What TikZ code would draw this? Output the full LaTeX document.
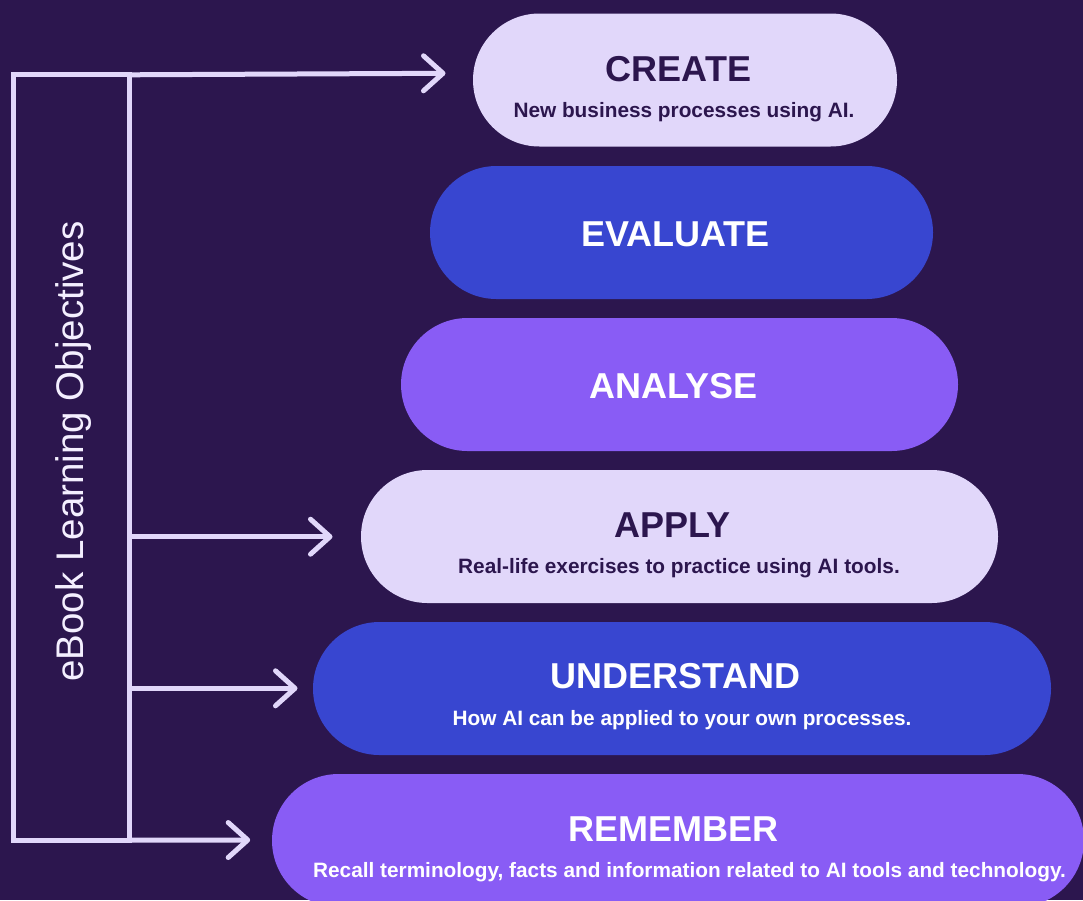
\documentclass[tikz,border=0pt]{standalone}
\usepackage{fontspec}
\setmainfont{Liberation Sans}
\usetikzlibrary{calc}

\definecolor{bgpurple}{HTML}{2C164E}
\definecolor{lavender}{HTML}{E1D7FA}
\definecolor{pillblue}{HTML}{3846D0}
\definecolor{pillviolet}{HTML}{895CF5}
\definecolor{inkdark}{HTML}{2C164E}
\definecolor{labelwhite}{HTML}{F4EFFF}

\begin{document}
\begin{tikzpicture}[x=1pt,y=-1pt,
  pill/.style={rounded corners=66.5pt, minimum height=133pt, inner sep=0pt, outer sep=0pt},
  title/.style={anchor=base, inner sep=0pt, font=\fontsize{36}{40}\selectfont\bfseries},
  subtitle/.style={anchor=base, inner sep=0pt, font=\fontsize{20.8}{24}\selectfont\bfseries},
  rail/.style={draw=lavender, line width=5pt},
  chevron/.style={draw=lavender, line width=5pt, line cap=round, line join=round},
]
% canvas
\useasboundingbox (0,0) rectangle (1083,900);
\fill[bgpurple] (0,0) rectangle (1083,900);
\clip (0,0) rectangle (1083,900);

% level pills
\node[pill, fill=lavender,   minimum width=424pt] (create)     at (685,80)      {};
\node[pill, fill=pillblue,   minimum width=503pt] (evaluate)   at (681.5,232.5) {};
\node[pill, fill=pillviolet, minimum width=557pt] (analyse)    at (679.5,384.5) {};
\node[pill, fill=lavender,   minimum width=637pt] (apply)      at (679.5,536.5) {};
\node[pill, fill=pillblue,   minimum width=738pt] (understand) at (682,688.5)   {};
\node[pill, fill=pillviolet, minimum width=812pt] (remember)   at (678,840.5)   {};

% titles and descriptions
\node[title, text=inkdark] (createT) at (678.5,81) {CREATE};
\node[subtitle, text=inkdark] (createS) at (684,117) {New business processes using AI.};
\node[title, text=white] (evaluateT) at (675.5,246) {EVALUATE};
\node[title, text=white] (analyseT) at (673.5,398) {ANALYSE};
\node[title, text=inkdark] (applyT) at (672.5,537) {APPLY};
\node[subtitle, text=inkdark] (applyS) at (679,573) {Real-life exercises to practice using AI tools.};
\node[title, text=white] (understandT) at (675.5,688) {UNDERSTAND};
\node[subtitle, text=white] (understandS) at (682,725) {How AI can be applied to your own processes.};
\node[title, text=white] (rememberT) at (673.5,841) {REMEMBER};
\node[subtitle, text=white] (rememberS) at (689.5,877) {Recall terminology, facts and information related to AI tools and technology.};

% bracket frame with its label
\node[draw=lavender, line width=5pt, minimum width=115.5pt, minimum height=765.2pt,
      inner sep=0pt, outer sep=0pt] (frame) at (71.25,457.4) {};
\node[anchor=base, rotate=90, inner sep=0pt, text=labelwhite,
      font=\fontsize{38.5}{44}\selectfont] (label) at (83,451.5) {eBook Learning Objectives};

% arrow tips
\coordinate (tipC) at (443,73.3);
\coordinate (tipA) at (330,536.7);
\coordinate (tipU) at (295,688.3);
\coordinate (tipR) at (247.7,840);

% connectors
\draw[rail] (frame.north east) -- (tipC);
\draw[rail] (frame.east |- tipA) -- (tipA);
\draw[rail] (frame.east |- tipU) -- (tipU);
\draw[rail] (frame.south east) -- (tipR);

\foreach \t in {tipC,tipA,tipU,tipR}{
  \draw[chevron] ($(\t)+(-19.5,-17.5)$) -- (\t) -- ($(\t)+(-19.5,17.5)$);
}
\end{tikzpicture}
\end{document}
